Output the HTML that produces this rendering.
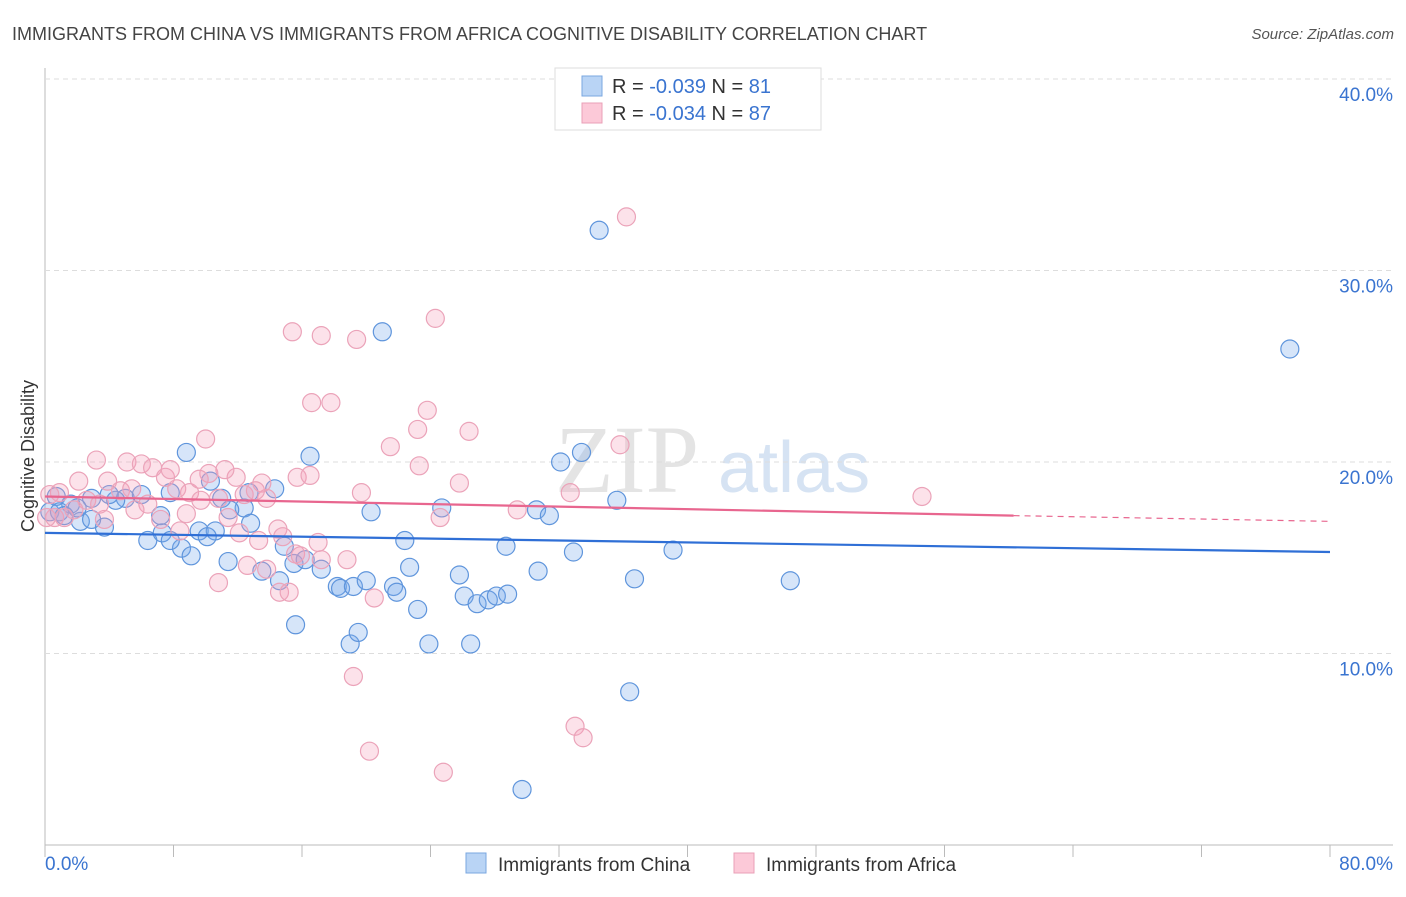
<!DOCTYPE html>
<html><head><meta charset="utf-8"><style>
body{margin:0;background:#fff;font-family:"Liberation Sans",sans-serif}
</style></head><body>
<svg id="chart" width="1406" height="892" xmlns="http://www.w3.org/2000/svg" font-family="Liberation Sans, sans-serif">
<text x="12" y="40" font-size="18" fill="#444">IMMIGRANTS FROM CHINA VS IMMIGRANTS FROM AFRICA COGNITIVE DISABILITY CORRELATION CHART</text>
<text x="1394" y="39" font-size="15" fill="#555" font-style="italic" text-anchor="end">Source: ZipAtlas.com</text>
<text x="555" y="492" font-size="96" font-family="Liberation Serif, serif" fill="#e4e4e4">ZIP</text>
<text x="718" y="492" font-size="72" fill="#d6e3f3">atlas</text>
<text transform="translate(34,456) rotate(-90)" font-size="18" fill="#333" text-anchor="middle">Cognitive Disability</text>
<g id="grid"></g><g id="marks"></g>
<g>
<rect x="555" y="68" width="266" height="62" fill="#fff" stroke="#ddd"/>
<rect x="582" y="76" width="20" height="20" fill="#b9d4f5" stroke="#7aa7e0"/>
<rect x="582" y="103" width="20" height="20" fill="#fcc9d8" stroke="#eaa0b7"/>
<text x="612" y="93" font-size="20" fill="#333">R = <tspan fill="#3a74d0">-0.039</tspan>   N = <tspan fill="#3a74d0"> 81</tspan></text>
<text x="612" y="120" font-size="20" fill="#333">R = <tspan fill="#3a74d0">-0.034</tspan>   N = <tspan fill="#3a74d0">87</tspan></text>
</g>
<g>
<rect x="466" y="853" width="20" height="20" fill="#b9d4f5" stroke="#7aa7e0"/>
<text x="498" y="871" font-size="19" fill="#333">Immigrants from China</text>
<rect x="734" y="853" width="20" height="20" fill="#fcc9d8" stroke="#eaa0b7"/>
<text x="766" y="871" font-size="19" fill="#333">Immigrants from Africa</text>
</g>
</svg>
<script>
const yTicks=[10,20,30,40];
const yTickLabels=["10.0%","20.0%","30.0%","40.0%"];
const xTickLabels=["0.0%","80.0%"];
const chinaX=[34.5,21.0,77.5,8.8,16.5,32.1,33.4,35.6,24.7,30.6,31.4,20.3,10.3,0.7,1.6,2.9,5.0,6.0,7.8,12.4,14.3,12.7,11.0,2.2,3.7,6.4,7.3,8.5,9.1,9.6,10.6,11.4,12.8,13.5,14.9,15.5,16.2,17.2,18.2,18.4,19.2,20.0,21.7,21.9,22.7,22.4,23.2,23.9,25.8,26.1,26.9,27.6,28.1,28.8,28.7,30.7,32.9,36.7,39.1,46.4,15.6,19.0,19.5,26.5,36.4,29.7,2.0,0.3,0.9,4.4,7.2,11.5,10.1,7.8,1.2,2.9,4.0,14.6];
const chinaY=[32.1,26.8,25.9,20.5,20.3,20.0,20.5,18.0,17.6,17.5,17.2,17.4,19.0,18.2,17.8,18.1,18.1,18.3,18.4,17.6,18.6,18.4,18.1,16.9,16.6,15.9,16.3,15.5,15.1,16.4,16.4,14.8,16.8,14.3,15.6,14.7,14.9,14.4,13.5,13.4,13.5,13.8,13.5,13.2,14.5,15.9,12.3,10.5,14.1,13.0,12.6,12.8,13.0,13.1,15.6,14.3,15.3,13.9,15.4,13.8,11.5,10.5,11.1,10.5,8.0,2.9,17.6,17.4,17.4,18.0,17.2,17.5,16.1,15.9,17.2,17.0,18.3,13.8];
const africaX=[36.2,15.4,17.2,19.4,24.3,16.6,17.8,23.8,23.2,26.4,21.5,35.8,10.0,3.2,5.1,6.0,6.7,7.5,10.2,11.9,15.7,16.5,23.3,25.8,19.7,32.7,54.6,29.4,24.6,2.1,3.9,4.7,0.9,0.3,2.6,5.4,8.2,9.0,9.7,10.8,12.4,13.5,13.8,6.4,8.8,11.4,7.2,3.7,0.6,8.4,12.1,13.3,14.5,14.8,15.6,17.0,15.9,17.2,18.8,12.6,13.8,10.8,14.6,15.2,20.5,19.2,33.0,33.5,20.2,24.8,0.1,1.2,1.8,3.4,7.8,9.6,13.1,5.6,11.2];
const africaY=[32.8,26.8,26.6,26.4,27.5,23.1,23.1,22.7,21.7,21.6,20.8,20.9,21.2,20.1,20.0,19.9,19.7,19.2,19.4,19.2,19.2,19.3,19.8,18.9,18.4,18.4,18.2,17.5,17.1,19.0,19.0,18.5,18.4,18.3,18.0,18.6,18.6,18.4,18.0,18.1,18.3,18.9,18.1,17.8,17.3,17.1,17.0,17.0,17.1,16.4,16.3,15.9,16.5,16.1,15.2,15.8,15.1,14.9,14.9,14.6,14.4,13.7,13.2,13.2,12.9,8.8,6.2,5.6,4.9,3.8,17.1,17.1,17.5,17.8,19.6,19.1,18.5,17.5,19.6];
const chinaTrend=[16.3,15.3];
const africaTrend=[18.2,17.2,16.9];
const africaTrendX=[0,60.3,80];

const NS="http://www.w3.org/2000/svg";
const X=v=>45+v*(1285/80);
const Y=v=>845-v*19.15;
function mk(tag,attrs,parent){const e=document.createElementNS(NS,tag);for(const k in attrs)e.setAttribute(k,attrs[k]);parent.appendChild(e);return e;}
const grid=document.getElementById('grid'),marks=document.getElementById('marks');
let e;
e=mk('line',{x1:45,y1:68,x2:45,y2:845,stroke:'#bbb'},grid);


e=mk('line',{x1:45,y1:845,x2:1393,y2:845,stroke:'#bbb'},grid);


for(let i=0;i<=10;i++){
 e=mk('line',{x1:X(i*8),y1:845,x2:X(i*8),y2:857,stroke:'#bbb'},grid);
 
 
}
yTicks.forEach((t,i)=>{
 e=mk('line',{x1:45,y1:Y(t),x2:1393,y2:Y(t),stroke:'#ddd','stroke-dasharray':'5,4'},grid);
 
 
 e=mk('text',{x:1393,y:Y(t)+22,'font-size':19,fill:'#3a74d0','text-anchor':'end'},grid);
 e.textContent=yTickLabels[i];
 
 
});
e=mk('text',{x:45,y:870,'font-size':19,fill:'#3a74d0'},grid);e.textContent=xTickLabels[0];


e=mk('text',{x:1393,y:870,'font-size':19,fill:'#3a74d0','text-anchor':'end'},grid);e.textContent=xTickLabels[1];


chinaX.forEach((x,i)=>{
 e=mk('circle',{cx:X(x),cy:Y(chinaY[i]),r:9,fill:'rgba(120,170,235,0.3)',stroke:'#5f95dc','stroke-width':1.2},marks);
 
 
});
africaX.forEach((x,i)=>{
 e=mk('circle',{cx:X(x),cy:Y(africaY[i]),r:9,fill:'rgba(245,160,185,0.3)',stroke:'#eba3b9','stroke-width':1.2},marks);
 
 
});
e=mk('line',{x1:X(0),y1:Y(chinaTrend[0]),x2:X(80),y2:Y(chinaTrend[1]),stroke:'#2f6fd6','stroke-width':2.2},marks);


e=mk('line',{x1:X(africaTrendX[0]),y1:Y(africaTrend[0]),x2:X(africaTrendX[1]),y2:Y(africaTrend[1]),stroke:'#e8668f','stroke-width':2.2},marks);


e=mk('line',{x1:X(africaTrendX[1]),y1:Y(africaTrend[1]),x2:X(africaTrendX[2]),y2:Y(africaTrend[2]),stroke:'#e8668f','stroke-width':1.2,'stroke-dasharray':'6,5'},marks);


</script>
</body></html>
